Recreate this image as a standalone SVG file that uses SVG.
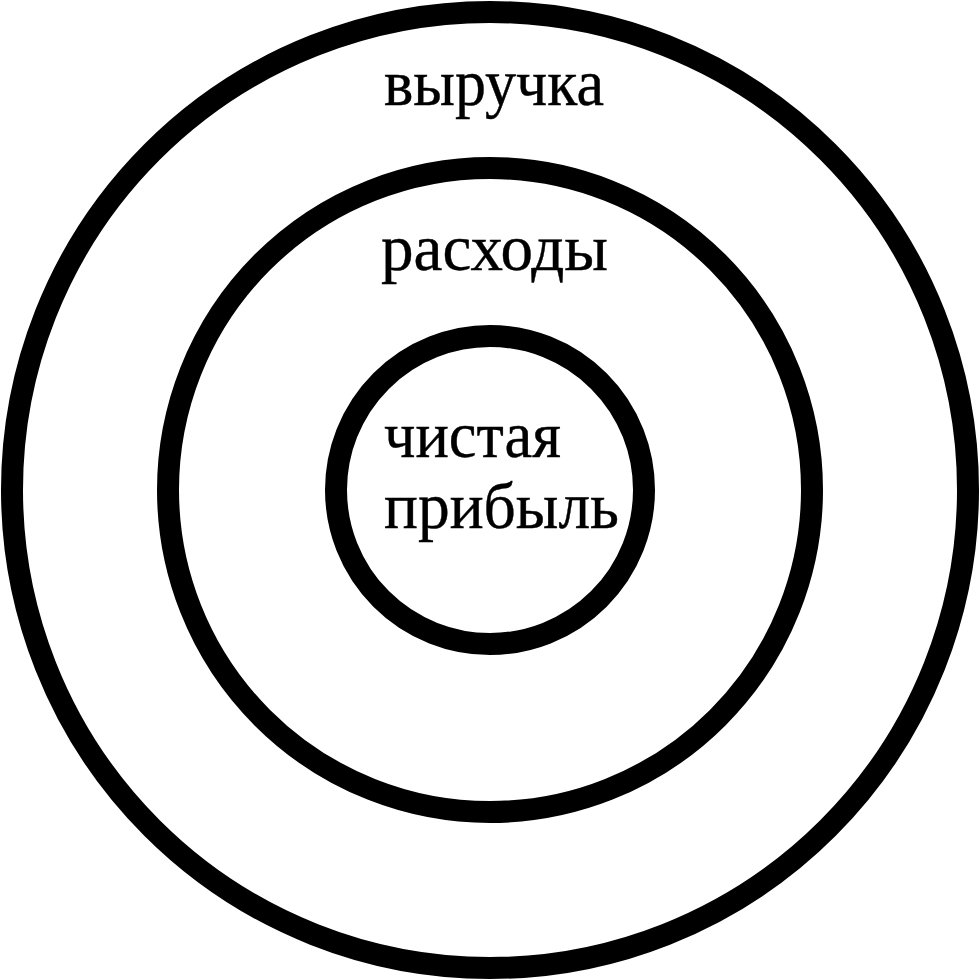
<svg xmlns="http://www.w3.org/2000/svg" width="980" height="980" viewBox="0 0 980 980">
<style>
.ring{fill:none;stroke:#000;stroke-width:22}
.lbl{font-family:"Liberation Serif","Times New Roman",serif;font-size:65px;fill:#000;stroke:#000;stroke-width:0.4}
</style>
<rect width="980" height="980" fill="#fff"/>
<g id="revenue">
<circle class="ring" cx="490" cy="490" r="478"/>
<text class="lbl" x="384" y="105" textLength="220" lengthAdjust="spacingAndGlyphs">выручка</text>
</g>
<g id="expenses">
<circle class="ring" cx="490" cy="490" r="322"/>
<text class="lbl" x="381" y="270" textLength="227" lengthAdjust="spacingAndGlyphs">расходы</text>
</g>
<g id="net-profit">
<circle class="ring" cx="490" cy="490" r="154"/>
<text class="lbl" x="384" y="457" textLength="177" lengthAdjust="spacingAndGlyphs">чистая</text>
<text class="lbl" x="384" y="528" textLength="235" lengthAdjust="spacingAndGlyphs">прибыль</text>
</g>
<g id="connectors"/>
</svg>
